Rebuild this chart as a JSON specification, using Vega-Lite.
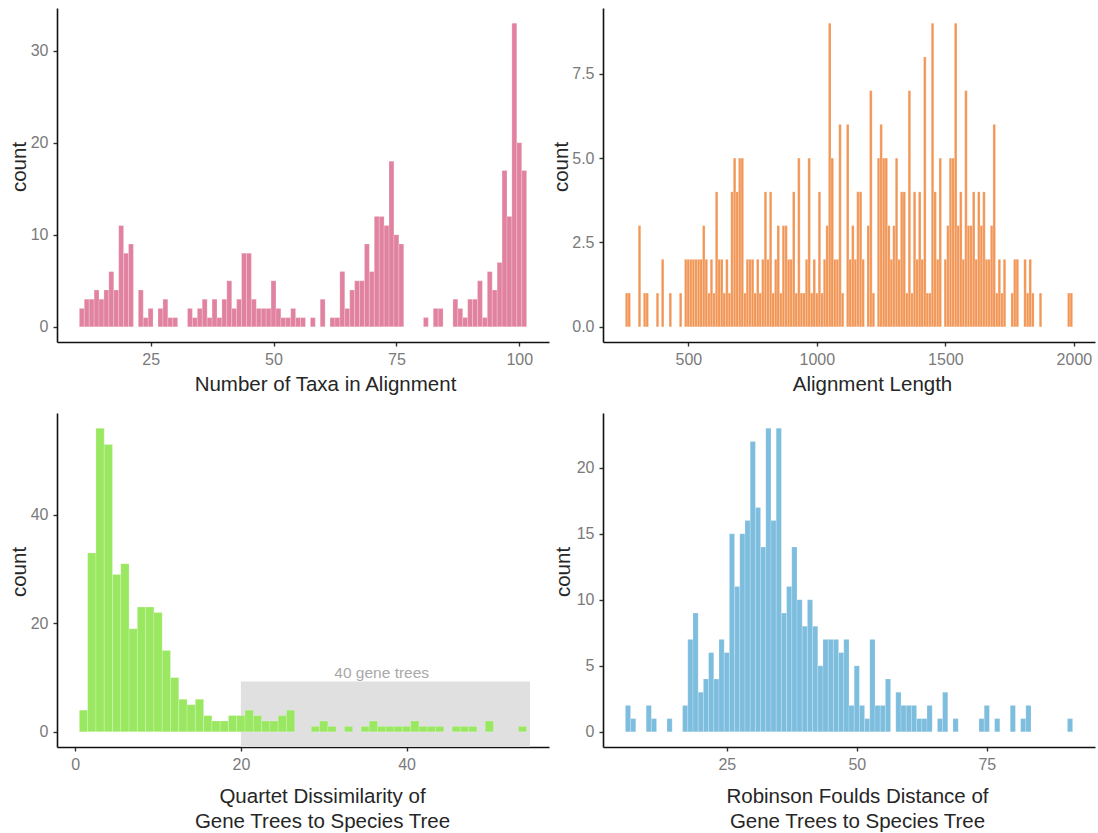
{
  "$schema": "https://vega.github.io/schema/vega-lite/v6.json",
  "background": "white",
  "padding": {"left": 9, "top": 8, "right": 5, "bottom": 5},
  "bounds": "flush",
  "columns": 2,
  "spacing": {"row": 71, "column": 54},
  "datasets": {
    "taxa": [
      {"start":10.5,"end":11.5,"count":2},{"start":11.5,"end":12.5,"count":3},{"start":12.5,"end":13.5,"count":3},{"start":13.5,"end":14.5,"count":4},{"start":14.5,"end":15.5,"count":3},{"start":15.5,"end":16.5,"count":4},{"start":16.5,"end":17.5,"count":6},{"start":17.5,"end":18.5,"count":4},{"start":18.5,"end":19.5,"count":11},{"start":19.5,"end":20.5,"count":8},{"start":20.5,"end":21.5,"count":9},{"start":22.5,"end":23.5,"count":4},{"start":23.5,"end":24.5,"count":1},{"start":24.5,"end":25.5,"count":2},{"start":26.5,"end":27.5,"count":2},{"start":27.5,"end":28.5,"count":3},{"start":28.5,"end":29.5,"count":1},{"start":29.5,"end":30.5,"count":1},{"start":32.5,"end":33.5,"count":2},{"start":33.5,"end":34.5,"count":1},{"start":34.5,"end":35.5,"count":2},{"start":35.5,"end":36.5,"count":3},{"start":36.5,"end":37.5,"count":1},{"start":37.5,"end":38.5,"count":3},{"start":38.5,"end":39.5,"count":1},{"start":39.5,"end":40.5,"count":3},{"start":40.5,"end":41.5,"count":5},{"start":41.5,"end":42.5,"count":2},{"start":42.5,"end":43.5,"count":3},{"start":43.5,"end":44.5,"count":8},{"start":44.5,"end":45.5,"count":8},{"start":45.5,"end":46.5,"count":3},{"start":46.5,"end":47.5,"count":2},{"start":47.5,"end":48.5,"count":2},{"start":48.5,"end":49.5,"count":2},{"start":49.5,"end":50.5,"count":5},{"start":50.5,"end":51.5,"count":2},{"start":51.5,"end":52.5,"count":1},{"start":52.5,"end":53.5,"count":1},{"start":53.5,"end":54.5,"count":2},{"start":54.5,"end":55.5,"count":1},{"start":55.5,"end":56.5,"count":1},{"start":57.5,"end":58.5,"count":1},{"start":59.5,"end":60.5,"count":3},{"start":61.5,"end":62.5,"count":1},{"start":62.5,"end":63.5,"count":1},{"start":63.5,"end":64.5,"count":6},{"start":64.5,"end":65.5,"count":2},{"start":65.5,"end":66.5,"count":4},{"start":66.5,"end":67.5,"count":5},{"start":67.5,"end":68.5,"count":5},{"start":68.5,"end":69.5,"count":9},{"start":69.5,"end":70.5,"count":6},{"start":70.5,"end":71.5,"count":12},{"start":71.5,"end":72.5,"count":12},{"start":72.5,"end":73.5,"count":11},{"start":73.5,"end":74.5,"count":18},{"start":74.5,"end":75.5,"count":10},{"start":75.5,"end":76.5,"count":9},{"start":80.5,"end":81.5,"count":1},{"start":82.5,"end":83.5,"count":2},{"start":83.5,"end":84.5,"count":2},{"start":86.5,"end":87.5,"count":3},{"start":87.5,"end":88.5,"count":2},{"start":88.5,"end":89.5,"count":1},{"start":89.5,"end":90.5,"count":3},{"start":90.5,"end":91.5,"count":3},{"start":91.5,"end":92.5,"count":5},{"start":92.5,"end":93.5,"count":1},{"start":93.5,"end":94.5,"count":6},{"start":94.5,"end":95.5,"count":4},{"start":95.5,"end":96.5,"count":7},{"start":96.5,"end":97.5,"count":17},{"start":97.5,"end":98.5,"count":12},{"start":98.5,"end":99.5,"count":33},{"start":99.5,"end":100.5,"count":20},{"start":100.5,"end":101.5,"count":17}
    ],
    "length": [
      {"start":255,"end":265,"count":1},{"start":265,"end":275,"count":1},{"start":305,"end":315,"count":3},{"start":325,"end":335,"count":1},{"start":335,"end":345,"count":1},{"start":375,"end":385,"count":1},{"start":395,"end":405,"count":2},{"start":425,"end":435,"count":1},{"start":465,"end":475,"count":1},
      {"start":485,"end":495,"count":2},{"start":495,"end":505,"count":2},{"start":505,"end":515,"count":2},{"start":515,"end":525,"count":2},{"start":525,"end":535,"count":2},{"start":535,"end":545,"count":2},{"start":545,"end":555,"count":2},{"start":555,"end":565,"count":3},{"start":565,"end":575,"count":2},{"start":575,"end":585,"count":1},{"start":585,"end":595,"count":2},{"start":595,"end":605,"count":1},{"start":605,"end":615,"count":4},{"start":615,"end":625,"count":2},{"start":625,"end":635,"count":2},{"start":635,"end":645,"count":1},{"start":645,"end":655,"count":2},{"start":655,"end":665,"count":1},{"start":665,"end":675,"count":4},{"start":675,"end":685,"count":5},{"start":685,"end":695,"count":4},{"start":695,"end":705,"count":5},{"start":705,"end":715,"count":5},{"start":715,"end":725,"count":1},{"start":725,"end":735,"count":2},{"start":735,"end":745,"count":2},{"start":745,"end":755,"count":2},{"start":755,"end":765,"count":1},{"start":765,"end":775,"count":2},{"start":775,"end":785,"count":1},{"start":785,"end":795,"count":2},{"start":795,"end":805,"count":4},{"start":805,"end":815,"count":2},{"start":815,"end":825,"count":4},{"start":825,"end":835,"count":1},{"start":835,"end":845,"count":2},{"start":845,"end":855,"count":3},{"start":855,"end":865,"count":1},{"start":865,"end":875,"count":3},{"start":875,"end":885,"count":3},{"start":885,"end":895,"count":2},{"start":895,"end":905,"count":2},{"start":905,"end":915,"count":4},{"start":915,"end":925,"count":1},{"start":925,"end":935,"count":5},{"start":935,"end":945,"count":1},{"start":945,"end":955,"count":1},{"start":955,"end":965,"count":2},{"start":965,"end":975,"count":5},{"start":975,"end":985,"count":1},{"start":985,"end":995,"count":2},{"start":995,"end":1005,"count":1},{"start":1005,"end":1015,"count":4},{"start":1015,"end":1025,"count":1},{"start":1025,"end":1035,"count":2},{"start":1035,"end":1045,"count":3},{"start":1045,"end":1055,"count":9},{"start":1055,"end":1065,"count":5},{"start":1065,"end":1075,"count":2},{"start":1075,"end":1085,"count":2},{"start":1085,"end":1095,"count":6},{"start":1095,"end":1105,"count":1},{"start":1115,"end":1125,"count":6},{"start":1125,"end":1135,"count":2},{"start":1135,"end":1145,"count":3},{"start":1145,"end":1155,"count":2},{"start":1155,"end":1165,"count":4},{"start":1165,"end":1175,"count":4},{"start":1175,"end":1185,"count":2},{"start":1195,"end":1205,"count":3},{"start":1205,"end":1215,"count":7},{"start":1215,"end":1225,"count":1},{"start":1235,"end":1245,"count":5},{"start":1245,"end":1255,"count":6},{"start":1255,"end":1265,"count":5},{"start":1265,"end":1275,"count":5},{"start":1275,"end":1285,"count":3},{"start":1285,"end":1295,"count":2},{"start":1295,"end":1305,"count":3},{"start":1305,"end":1315,"count":5},{"start":1315,"end":1325,"count":2},{"start":1325,"end":1335,"count":4},{"start":1335,"end":1345,"count":4},{"start":1345,"end":1355,"count":1},{"start":1355,"end":1365,"count":7},{"start":1365,"end":1375,"count":1},{"start":1375,"end":1385,"count":4},{"start":1385,"end":1395,"count":2},{"start":1395,"end":1405,"count":4},{"start":1405,"end":1415,"count":2},{"start":1415,"end":1425,"count":8},{"start":1425,"end":1435,"count":1},{"start":1435,"end":1445,"count":1},{"start":1445,"end":1455,"count":9},{"start":1455,"end":1465,"count":4},{"start":1465,"end":1475,"count":2},{"start":1475,"end":1485,"count":5},{"start":1495,"end":1505,"count":2},{"start":1505,"end":1515,"count":3},{"start":1515,"end":1525,"count":5},{"start":1525,"end":1535,"count":5},{"start":1535,"end":1545,"count":9},{"start":1545,"end":1555,"count":3},{"start":1555,"end":1565,"count":4},{"start":1565,"end":1575,"count":2},{"start":1575,"end":1585,"count":7},{"start":1585,"end":1595,"count":3},{"start":1595,"end":1605,"count":3},{"start":1605,"end":1615,"count":4},{"start":1615,"end":1625,"count":2},{"start":1625,"end":1635,"count":4},{"start":1635,"end":1645,"count":3},{"start":1645,"end":1655,"count":4},{"start":1655,"end":1665,"count":2},{"start":1665,"end":1675,"count":2},{"start":1675,"end":1685,"count":3},{"start":1685,"end":1695,"count":6},{"start":1695,"end":1705,"count":1},{"start":1705,"end":1715,"count":2},{"start":1715,"end":1725,"count":1},{"start":1725,"end":1735,"count":2},{"start":1755,"end":1765,"count":1},{"start":1765,"end":1775,"count":2},{"start":1775,"end":1785,"count":2},{"start":1805,"end":1815,"count":2},{"start":1815,"end":1825,"count":1},{"start":1825,"end":1835,"count":2},{"start":1835,"end":1845,"count":1},{"start":1865,"end":1875,"count":1},{"start":1975,"end":1985,"count":1},{"start":1985,"end":1995,"count":1}
    ],
    "quartet": [
      {"start":0.5,"end":1.5,"count":4},{"start":1.5,"end":2.5,"count":33},{"start":2.5,"end":3.5,"count":56},{"start":3.5,"end":4.5,"count":53},{"start":4.5,"end":5.5,"count":29},{"start":5.5,"end":6.5,"count":31},{"start":6.5,"end":7.5,"count":19},{"start":7.5,"end":8.5,"count":23},{"start":8.5,"end":9.5,"count":23},{"start":9.5,"end":10.5,"count":22},{"start":10.5,"end":11.5,"count":15},{"start":11.5,"end":12.5,"count":10},{"start":12.5,"end":13.5,"count":6},{"start":13.5,"end":14.5,"count":5},{"start":14.5,"end":15.5,"count":6},{"start":15.5,"end":16.5,"count":3},{"start":16.5,"end":17.5,"count":2},{"start":17.5,"end":18.5,"count":2},{"start":18.5,"end":19.5,"count":3},{"start":19.5,"end":20.5,"count":3},{"start":20.5,"end":21.5,"count":4},{"start":21.5,"end":22.5,"count":3},{"start":22.5,"end":23.5,"count":2},{"start":23.5,"end":24.5,"count":2},{"start":24.5,"end":25.5,"count":3},{"start":25.5,"end":26.5,"count":4},{"start":28.5,"end":29.5,"count":1},{"start":29.5,"end":30.5,"count":2},{"start":30.5,"end":31.5,"count":1},{"start":32.5,"end":33.5,"count":1},{"start":34.5,"end":35.5,"count":1},{"start":35.5,"end":36.5,"count":2},{"start":36.5,"end":37.5,"count":1},{"start":37.5,"end":38.5,"count":1},{"start":38.5,"end":39.5,"count":1},{"start":39.5,"end":40.5,"count":1},{"start":40.5,"end":41.5,"count":2},{"start":41.5,"end":42.5,"count":1},{"start":42.5,"end":43.5,"count":1},{"start":43.5,"end":44.5,"count":1},{"start":45.5,"end":46.5,"count":1},{"start":46.5,"end":47.5,"count":1},{"start":47.5,"end":48.5,"count":1},{"start":49.5,"end":50.5,"count":2},{"start":53.5,"end":54.5,"count":1}
    ],
    "quartet_box": [{"xmin": 20, "xmax": 54.9, "ymin": -2.8, "ymax": 9.3}],
    "quartet_note": [{"x": 37, "y": 9.85, "label": "40 gene trees"}],
    "rf": [
      {"start":5.5,"end":6.5,"count":2},{"start":6.5,"end":7.5,"count":1},{"start":9.5,"end":10.5,"count":2},{"start":10.5,"end":11.5,"count":1},{"start":13.5,"end":14.5,"count":1},{"start":16.5,"end":17.5,"count":2},{"start":17.5,"end":18.5,"count":7},{"start":18.5,"end":19.5,"count":9},{"start":19.5,"end":20.5,"count":3},{"start":20.5,"end":21.5,"count":4},{"start":21.5,"end":22.5,"count":6},{"start":22.5,"end":23.5,"count":4},{"start":23.5,"end":24.5,"count":7},{"start":24.5,"end":25.5,"count":6},{"start":25.5,"end":26.5,"count":15},{"start":26.5,"end":27.5,"count":11},{"start":27.5,"end":28.5,"count":15},{"start":28.5,"end":29.5,"count":16},{"start":29.5,"end":30.5,"count":22},{"start":30.5,"end":31.5,"count":17},{"start":31.5,"end":32.5,"count":14},{"start":32.5,"end":33.5,"count":23},{"start":33.5,"end":34.5,"count":16},{"start":34.5,"end":35.5,"count":23},{"start":35.5,"end":36.5,"count":9},{"start":36.5,"end":37.5,"count":11},{"start":37.5,"end":38.5,"count":14},{"start":38.5,"end":39.5,"count":10},{"start":39.5,"end":40.5,"count":8},{"start":40.5,"end":41.5,"count":10},{"start":41.5,"end":42.5,"count":8},{"start":42.5,"end":43.5,"count":5},{"start":43.5,"end":44.5,"count":7},{"start":44.5,"end":45.5,"count":7},{"start":45.5,"end":46.5,"count":7},{"start":46.5,"end":47.5,"count":6},{"start":47.5,"end":48.5,"count":7},{"start":48.5,"end":49.5,"count":2},{"start":49.5,"end":50.5,"count":5},{"start":50.5,"end":51.5,"count":2},{"start":51.5,"end":52.5,"count":1},{"start":52.5,"end":53.5,"count":7},{"start":53.5,"end":54.5,"count":2},{"start":54.5,"end":55.5,"count":2},{"start":55.5,"end":56.5,"count":4},{"start":57.5,"end":58.5,"count":3},{"start":58.5,"end":59.5,"count":2},{"start":59.5,"end":60.5,"count":2},{"start":60.5,"end":61.5,"count":2},{"start":61.5,"end":62.5,"count":1},{"start":62.5,"end":63.5,"count":1},{"start":63.5,"end":64.5,"count":2},{"start":65.5,"end":66.5,"count":1},{"start":66.5,"end":67.5,"count":3},{"start":68.5,"end":69.5,"count":1},{"start":73.5,"end":74.5,"count":1},{"start":74.5,"end":75.5,"count":2},{"start":76.5,"end":77.5,"count":1},{"start":79.5,"end":80.5,"count":2},{"start":81.5,"end":82.5,"count":1},{"start":82.5,"end":83.5,"count":2},{"start":90.5,"end":91.5,"count":1}
    ]
  },
  "concat": [
    {
      "width": 492, "height": 334,
      "data": {"name": "taxa"},
      "mark": {"type": "bar", "fill": "#E183A0", "stroke": "#ffffff", "strokeWidth": 0.4, "strokeOpacity": 0.5},
      "encoding": {
        "x": {"field": "start", "type": "quantitative", "scale": {"domain": [5.95, 106.05], "nice": false, "zero": false},
              "axis": {"values": [25, 50, 75, 100], "title": "Number of Taxa in Alignment", "titlePadding": 7, "titleX": 268}},
        "x2": {"field": "end"},
        "y": {"field": "count", "type": "quantitative", "scale": {"domain": [-1.65, 34.65], "nice": false, "zero": false},
              "axis": {"values": [0, 10, 20, 30], "title": "count", "titleX": -38, "titleY": 158.5, "titleBaseline": "middle"}},
        "y2": {"datum": 0}
      }
    },
    {
      "width": 492, "height": 334,
      "data": {"name": "length"},
      "mark": {"type": "bar", "fill": "#F29656", "stroke": "#ffffff", "strokeWidth": 0.4, "strokeOpacity": 0.5},
      "encoding": {
        "x": {"field": "start", "type": "quantitative", "scale": {"domain": [168, 2082], "nice": false, "zero": false},
              "axis": {"values": [500, 1000, 1500, 2000], "format": "d", "title": "Alignment Length", "titlePadding": 7, "titleX": 269}},
        "x2": {"field": "end"},
        "y": {"field": "count", "type": "quantitative", "scale": {"domain": [-0.45, 9.45], "nice": false, "zero": false},
              "axis": {"values": [0, 2.5, 5, 7.5], "format": ".1f", "title": "count", "titleX": -42, "titleY": 158.5, "titleBaseline": "middle"}},
        "y2": {"datum": 0}
      }
    },
    {
      "width": 492, "height": 334,
      "layer": [
        {
          "data": {"name": "quartet_box"},
          "mark": {"type": "rect", "fill": "#e0e0e0"},
          "encoding": {
            "x": {"field": "xmin", "type": "quantitative", "scale": {"domain": [-2.2, 57.2], "nice": false, "zero": false},
                  "axis": {"values": [0, 20, 40], "title": ["Quartet Dissimilarity of", "Gene Trees to Species Tree"], "titlePadding": 14, "titleLineHeight": 25, "titleX": 265}},
            "x2": {"field": "xmax"},
            "y": {"field": "ymax", "type": "quantitative", "scale": {"domain": [-2.8, 58.8], "nice": false, "zero": false},
                  "axis": {"values": [0, 20, 40], "title": "count", "titleX": -38, "titleY": 158.5, "titleBaseline": "middle"}},
            "y2": {"field": "ymin"}
          }
        },
        {
          "data": {"name": "quartet"},
          "mark": {"type": "bar", "fill": "#9AE862", "stroke": "#ffffff", "strokeWidth": 0.4, "strokeOpacity": 0.5},
          "encoding": {
            "x": {"field": "start", "type": "quantitative", "scale": {"domain": [-2.2, 57.2], "nice": false, "zero": false},
                  "axis": {"values": [0, 20, 40], "title": ["Quartet Dissimilarity of", "Gene Trees to Species Tree"], "titlePadding": 14, "titleLineHeight": 25, "titleX": 265}},
            "x2": {"field": "end"},
            "y": {"field": "count", "type": "quantitative", "scale": {"domain": [-2.8, 58.8], "nice": false, "zero": false},
                  "axis": {"values": [0, 20, 40], "title": "count", "titleX": -38, "titleY": 158.5, "titleBaseline": "middle"}},
            "y2": {"datum": 0}
          }
        },
        {
          "data": {"name": "quartet_note"},
          "mark": {"type": "text", "fill": "#a8a8a8", "font": "Liberation Sans", "fontSize": 15.5, "align": "center", "baseline": "alphabetic"},
          "encoding": {
            "x": {"field": "x", "type": "quantitative", "scale": {"domain": [-2.2, 57.2], "nice": false, "zero": false},
                  "axis": {"values": [0, 20, 40], "title": ["Quartet Dissimilarity of", "Gene Trees to Species Tree"], "titlePadding": 14, "titleLineHeight": 25, "titleX": 265}},
            "y": {"field": "y", "type": "quantitative", "scale": {"domain": [-2.8, 58.8], "nice": false, "zero": false},
                  "axis": {"values": [0, 20, 40], "title": "count", "titleX": -38, "titleY": 158.5, "titleBaseline": "middle"}},
            "text": {"field": "label"}
          }
        }
      ]
    },
    {
      "width": 492, "height": 334,
      "data": {"name": "rf"},
      "mark": {"type": "bar", "fill": "#7DBDDE", "stroke": "#ffffff", "strokeWidth": 0.4, "strokeOpacity": 0.5},
      "encoding": {
        "x": {"field": "start", "type": "quantitative", "scale": {"domain": [1.2, 95.8], "nice": false, "zero": false},
              "axis": {"values": [25, 50, 75], "title": ["Robinson Foulds Distance of", "Gene Trees to Species Tree"], "titlePadding": 14, "titleLineHeight": 25, "titleX": 254}},
        "x2": {"field": "end"},
        "y": {"field": "count", "type": "quantitative", "scale": {"domain": [-1.15, 24.15], "nice": false, "zero": false},
              "axis": {"values": [0, 5, 10, 15, 20], "title": "count", "titleX": -40, "titleY": 158.5, "titleBaseline": "middle"}},
        "y2": {"datum": 0}
      }
    }
  ],
  "config": {
    "view": {"stroke": null},
    "axis": {
      "grid": false,
      "domainColor": "#111111", "domainWidth": 1.6,
      "tickColor": "#333333", "tickWidth": 1.4, "tickSize": 4,
      "labelFont": "Liberation Sans", "labelFontSize": 16, "labelColor": "#7a7a7a", "labelPadding": 5,
      "labelOverlap": false, "labelFlush": false,
      "titleFont": "Liberation Sans", "titleFontSize": 20.5, "titleFontWeight": "normal", "titleColor": "#262626"
    }
  }
}
